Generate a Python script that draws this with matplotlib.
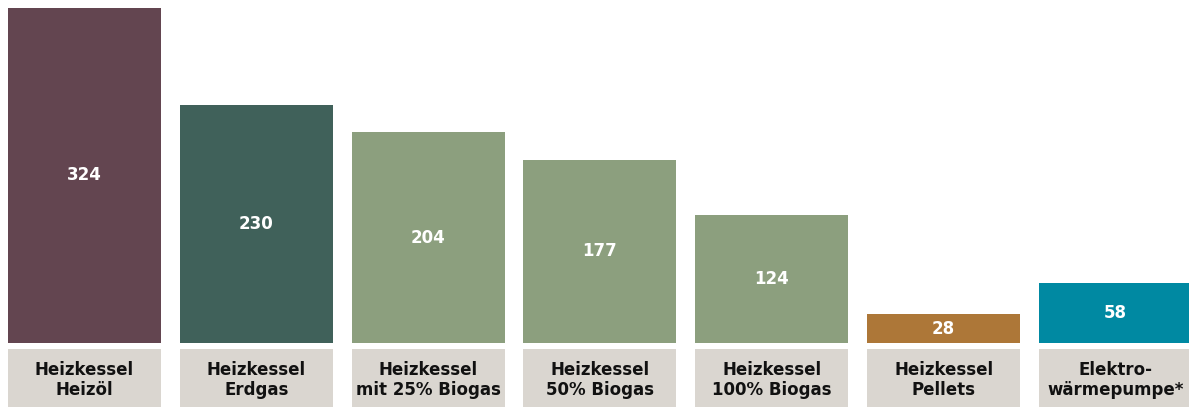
import matplotlib.pyplot as plt

# values
categories = ["Heizkessel\nHeizöl", "Heizkessel\nErdgas", "Heizkessel\nmit 25% Biogas",
              "Heizkessel\n50% Biogas", "Heizkessel\n100% Biogas", "Heizkessel\nPellets",
              "Elektro-\nwärmepumpe*"]
values = [324, 230, 204, 177, 124, 28, 58]
colors = ["#634550", "#40615A", "#8C9F7E", "#8C9F7E", "#8C9F7E", "#AD7738", "#0089A2"]

W, H = 1189, 407
fig = plt.figure(figsize=(W / 100, H / 100), dpi=100)
plt.rcParams['font.family'] = ['DejaVu Sans']

step = 171.83
xs = list(range(len(values)))
width = 153 / step
xmin = -width / 2 - 8 / step
xmax = xmin + W / step

# bars
ax = fig.add_axes([0, 64 / H, 1, 343 / H])
ax.bar(xs, values, width=width, color=colors)
for x, v in zip(xs, values):
    ax.text(x, v / 2, str(v), ha='center', va='center', color='white',
            fontsize=12, fontweight='bold')
ax.set_xlim(xmin, xmax)
ax.set_ylim(0, 343 / 1.034)
ax.axis('off')

# label boxes
lab = fig.add_axes([0, 0, 1, 58 / H])
lab.bar(xs, [1] * len(xs), width=width, color="#DAD6D0")
for x, c in zip(xs, categories):
    lab.text(x, 0.47, c, ha='center', va='center', color='#111111',
             fontsize=12, fontweight='bold', linespacing=1.12)
lab.set_xlim(xmin, xmax)
lab.set_ylim(0, 1)
lab.axis('off')

fig.savefig("out.png", dpi=100)
